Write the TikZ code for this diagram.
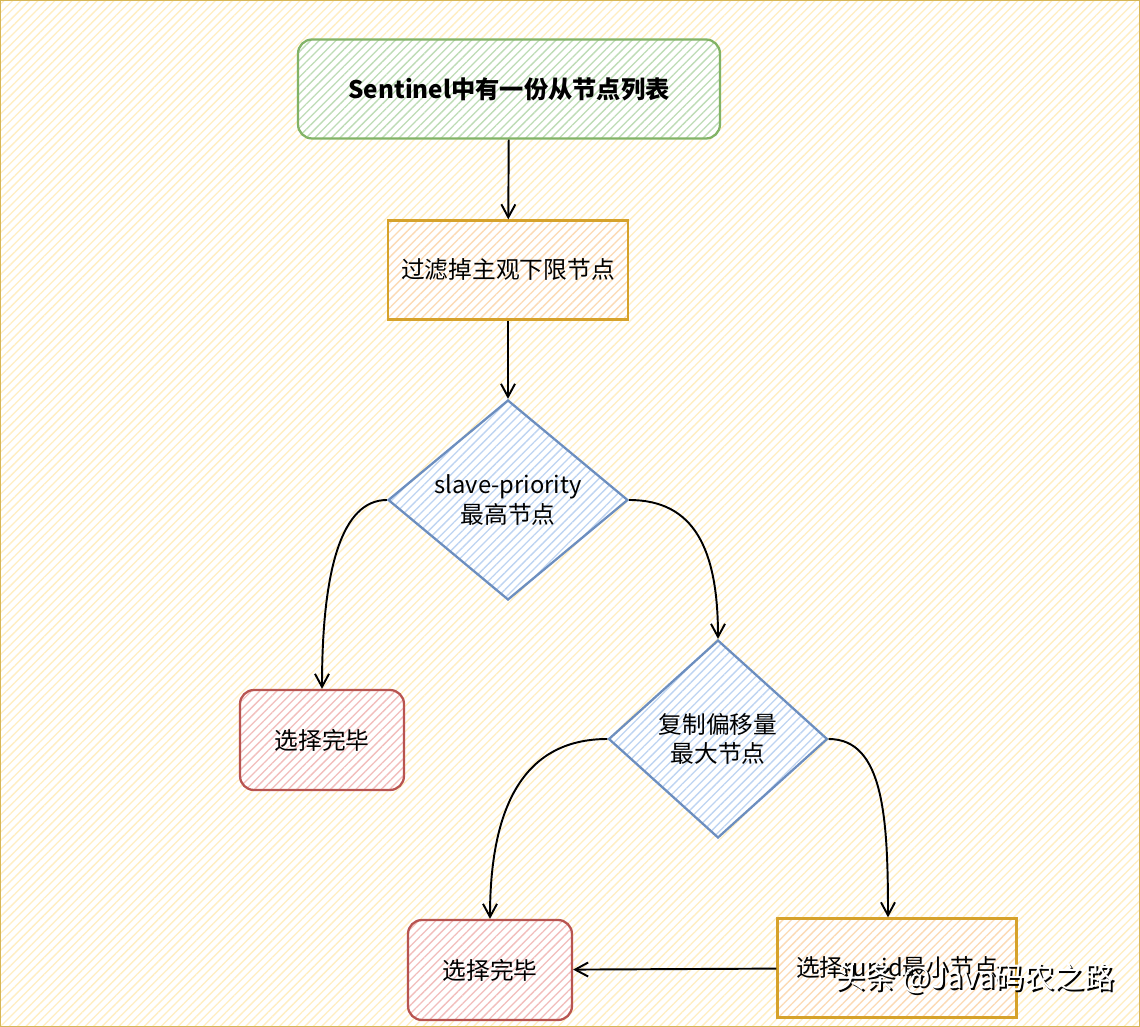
\documentclass[tikz,border=0pt]{standalone}
\usepackage{fontspec}
\setmainfont{Noto Sans CJK SC}
\usepackage{tikz}
\usetikzlibrary{shapes.geometric, arrows.meta, positioning, patterns.meta}
\usepackage{xcolor}
\definecolor{bgline}{RGB}{255,238,194}
\definecolor{bgborder}{RGB}{214,182,86}
\definecolor{startcolor}{RGB}{130,179,102}
\definecolor{starthatch}{RGB}{190,220,182}
\definecolor{stepcolor}{RGB}{214,162,43}
\definecolor{stephatch}{RGB}{252,218,180}
\definecolor{decidecolor}{RGB}{108,142,191}
\definecolor{decidehatch}{RGB}{190,212,242}
\definecolor{donecolor}{RGB}{184,84,80}
\definecolor{donehatch}{RGB}{242,190,188}

\begin{document}
\begin{tikzpicture}[
    x=0.02cm, y=-0.02cm,
    hatch/.style={preaction={fill=white}, pattern={Lines[angle=45, distance=3.4pt, line width=0.75pt]}, pattern color=#1},
    block/.style={rectangle, draw, line width=1.3pt, minimum width=4.8cm, minimum height=1.98cm, align=center, font=\fontsize{13.5}{17}\selectfont},
    decide/.style={diamond, draw, line width=1.3pt, inner sep=0pt, align=center, font=\fontsize{13.5}{17}\selectfont},
    arrow/.style={-{Straight Barb[length=2.6mm, width=2.8mm]}, line width=1.1pt}
]
% background
\useasboundingbox (0,0) rectangle (1140,1027);
\path[hatch=bgline, draw=bgborder, line width=1pt] (0,0) rectangle (1140,1027);

\node[block, rounded corners=8pt, draw=startcolor, hatch=starthatch, minimum width=8.44cm, font=\fontsize{13.8}{17}\selectfont\bfseries] (list) at (509,89) {Sentinel中有一份从节点列表};
\node[block, draw=stepcolor, hatch=stephatch] (filter) at (508,270) {过滤掉主观下限节点};
\node[decide, draw=decidecolor, hatch=decidehatch, minimum width=4.8cm, minimum height=4cm] (prio) at (508,500) {slave-priority\\最高节点};
\node[block, rounded corners=8pt, draw=donecolor, hatch=donehatch, minimum width=3.28cm, minimum height=2cm] (done1) at (322,740) {选择完毕};
\node[decide, draw=decidecolor, hatch=decidehatch, minimum width=4.38cm, minimum height=3.96cm] (offset) at (718,739) {复制偏移量\\最大节点};
\node[block, rounded corners=8pt, draw=donecolor, hatch=donehatch, minimum width=3.28cm, minimum height=2cm] (done2) at (490,970) {选择完毕};
\node[block, draw=stepcolor, hatch=stephatch, minimum width=4.78cm] (runid) at (897,968) {选择runid最小节点};

\draw[arrow] (list) -- (filter);
\draw[arrow] (filter) -- (prio);
\draw[arrow] (prio.west) .. controls +(-45,0) and +(0,-120) .. (done1.north);
\draw[arrow] (prio.east) .. controls +(65,0) and +(0,-90) .. (offset.north);
\draw[arrow] (offset.west) .. controls +(-85,0) and +(0,-110) .. (done2.north);
\draw[arrow] (offset.east) .. controls +(55,0) and +(0,-100) .. ([xshift=-0.18cm]runid.north);
\draw[arrow] (runid) -- (done2);

% watermark
\node[font=\fontsize{17}{20}\selectfont, text=black] (markshadow) at (977,980) {头条 @Java码农之路};
\node[font=\fontsize{17}{20}\selectfont, text=white] (mark) at (975,978) {头条 @Java码农之路};
\end{tikzpicture}
\end{document}
